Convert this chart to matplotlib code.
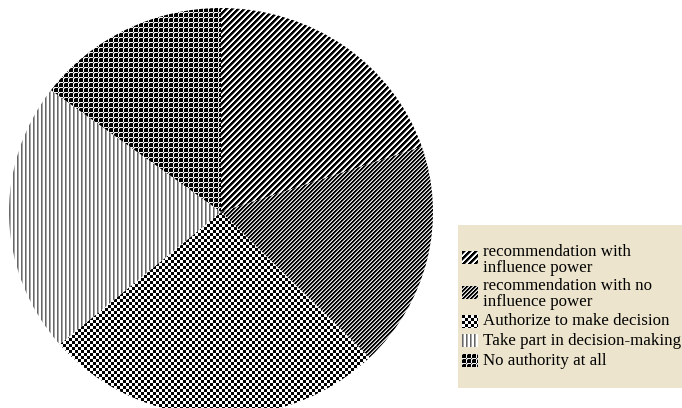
#!/usr/bin/env python3

import numpy as np
import matplotlib.pyplot as plt

# Share of answers per level of decision power
labels = [
    "recommendation with\ninfluence power",
    "recommendation with no\ninfluence power",
    "Authorize to make decision",
    "Take part in decision-making",
    "No authority at all",
]
shares = [19.8, 17.8, 26.1, 21.4, 14.8]

W, H = 682, 408
plt.rcParams["font.family"] = ["Liberation Serif", "DejaVu Serif"]


def texture(kind, h, w):
    i, j = np.mgrid[0:h, 0:w]
    if kind == 0:  # wide diagonal stripes
        v = np.array([0, 0, 0, 0.5, 1, 1])[(i + j) % 6]
    elif kind == 1:  # dense diagonal stripes
        v = np.array([0, 0, 0.55, 0.9])[(i + j) % 4]
    elif kind == 2:  # checkerboard
        v = ((i // 3 + j // 3) % 2).astype(float)
    elif kind == 3:  # vertical lines
        v = np.array([0.4, 0.65, 1, 1])[j % 4]
    else:  # cross hatch, dark cells with thin light grid
        gi = (i % 5) == 4
        gj = (j % 5) == 4
        v = np.where(gi | gj, 0.95, 0.0)
        v = np.where(gi & gj, 0.3, v)
        v = np.where(((i % 5) == 0) & ((j % 5) == 0), 0.6, v)
    return v


fig = plt.figure(figsize=(W / 100, H / 100), dpi=100)

# pie axes (slightly wider than tall, like the original export)
cx, cy, rx, ry = 221, 196, 212, 204
ax = fig.add_axes([(cx - rx) / W, (cy - ry) / H, 2 * rx / W, 2 * ry / H])
wedges, _ = ax.pie(shares, startangle=90, counterclock=False,
                   colors=["white"] * len(shares),
                   wedgeprops=dict(linewidth=0))
ax.set_aspect("auto")
ax.set_xlim(-1, 1)
ax.set_ylim(-1, 1)
ax.axis("off")

for k, wdg in enumerate(wedges):
    im = ax.imshow(texture(k, 2 * ry, 2 * rx), cmap="gray", vmin=0, vmax=1,
                   extent=(-1, 1, -1, 1), interpolation="nearest",
                   aspect="auto", zorder=2)
    im.set_clip_path(wdg)

# legend box
lx0, ly0, lx1, ly1 = 458, 225, 682, 388
lax = fig.add_axes([lx0 / W, (H - ly1) / H, (lx1 - lx0) / W, (ly1 - ly0) / H])
lax.set_facecolor("#ece4cc")
for s in lax.spines.values():
    s.set_visible(False)
lax.set_xticks([])
lax.set_yticks([])

handle_y = [251, 286, 315, 334, 354]
text_y = [259.5, 294.5, 321, 341, 361]
for k, lab in enumerate(labels):
    y0 = handle_y[k] - ly0
    lax.imshow(texture(k, 13, 16), cmap="gray", vmin=0, vmax=1,
               extent=(4, 20, y0 + 13, y0), interpolation="nearest",
               aspect="auto")
    lax.text(25, text_y[k] - ly0, lab, fontsize=12.2, va="center",
             ha="left", linespacing=1.0)
lax.set_xlim(0, lx1 - lx0)
lax.set_ylim(ly1 - ly0, 0)

fig.savefig("out.png", dpi=100)
